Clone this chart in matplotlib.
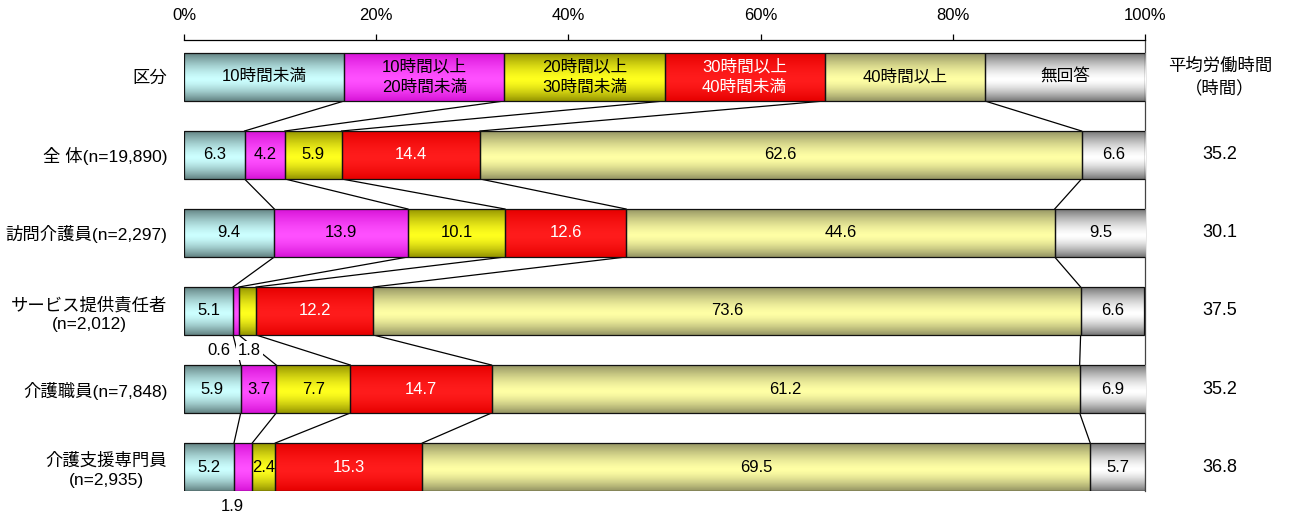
import matplotlib
matplotlib.use("Agg")
import matplotlib.pyplot as plt
import numpy as np

plt.rcParams['font.family'] = ['Liberation Sans', 'Noto Sans CJK JP', 'DejaVu Sans']
plt.rcParams['font.size'] = 12

# data
categories = ['10時間未満', '10時間以上\n20時間未満', '20時間以上\n30時間未満',
              '30時間以上\n40時間未満', '40時間以上', '無回答']
groups = ['全 体(n=19,890)', '訪問介護員(n=2,297)', 'サービス提供責任者\n(n=2,012)',
          '介護職員(n=7,848)', '介護支援専門員\n(n=2,935)']
shares = [
    [6.3, 4.2, 5.9, 14.4, 62.6, 6.6],
    [9.4, 13.9, 10.1, 12.6, 44.6, 9.5],
    [5.1, 0.6, 1.8, 12.2, 73.6, 6.6],
    [5.9, 3.7, 7.7, 14.7, 61.2, 6.9],
    [5.2, 1.9, 2.4, 15.3, 69.5, 5.7],
]
avg_hours = [35.2, 30.1, 37.5, 35.2, 36.8]

# gradient colours (light, dark) per category
light = [(204, 255, 255), (255, 80, 255), (255, 255, 30), (255, 28, 28), (255, 255, 165), (255, 255, 255)]
dark = [(100, 132, 132), (215, 20, 215), (150, 150, 0), (230, 0, 0), (150, 150, 100), (120, 120, 120)]
text_col = ['black', 'black', 'black', 'white', 'black', 'black']

# small values put under the bar: (row, segment) -> x shift
below = {(2, 1): -1.8, (2, 2): 0.2, (4, 1): -1.1}

h = 0.615
fig = plt.figure(figsize=(12.9, 5.19), dpi=100)
ax = fig.add_axes([184 / 1290, 28 / 519, 961 / 1290, 451 / 519])


def grad_img(ci, n=60):
    t = np.linspace(0, 1, n)
    p = 0.55
    d = np.where(t < p, (p - t) / p, (t - p) / (1 - p))
    w = 1 - np.clip(d, 0, 1) ** 1.5
    lo = np.array(light[ci]) / 255
    dk = np.array(dark[ci]) / 255
    col = dk[None, :] * (1 - w[:, None]) + lo[None, :] * w[:, None]
    return col[:, None, :]


def draw_row(y, vals):
    lefts = np.concatenate([[0], np.cumsum(vals)[:-1]])
    bars = ax.barh([y] * len(vals), vals, left=lefts, height=h,
                   color='none', edgecolor='#111111', linewidth=0.9, zorder=4)
    for ci, b in enumerate(bars):
        x0, y0 = b.get_x(), b.get_y()
        ax.imshow(grad_img(ci), extent=(x0, x0 + b.get_width(), y0, y0 + b.get_height()),
                  aspect='auto', origin='upper', zorder=3, interpolation='bilinear')
    return lefts


# header row
ys = [0] + [-(i + 1) for i in range(len(groups))]
header_vals = [100 / len(categories)] * len(categories)
hl = draw_row(0, header_vals)
for ci, cat in enumerate(categories):
    ax.text(hl[ci] + header_vals[ci] / 2, 0, cat, ha='center', va='center',
            color=text_col[ci], zorder=6, linespacing=1.5)

# data rows
cums = [np.cumsum(header_vals)]
for ri, vals in enumerate(shares):
    y = ys[ri + 1]
    lefts = draw_row(y, vals)
    cums.append(np.cumsum(vals))
    for ci, v in enumerate(vals):
        cx = lefts[ci] + v / 2
        if (ri, ci) in below:
            ax.text(cx + below[(ri, ci)], y - 0.51, f'{v:.1f}', ha='center', va='center',
                    color='black', zorder=6,
                    bbox=dict(facecolor='white', edgecolor='none', pad=1.5))
        else:
            ax.text(cx, y, f'{v:.1f}', ha='center', va='center', color=text_col[ci], zorder=6)
    ax.text(107.8, y, f'{avg_hours[ri]:.1f}', ha='center', va='center', clip_on=False,
            fontsize=13)

# connector lines between rows
for i in range(len(cums) - 1):
    for k in range(len(categories) - 1):
        ax.plot([cums[i][k], cums[i + 1][k]], [ys[i] - h / 2, ys[i + 1] + h / 2],
                color='black', linewidth=0.9, zorder=2)

ax.text(107.8, 0, '平均労働時間\n（時間）', ha='center', va='center', clip_on=False,
        fontsize=12.5, linespacing=1.4)

ax.set_xlim(0, 100)
ax.set_ylim(-5 - h / 2, 0.474)
ax.xaxis.tick_top()
ax.set_xticks(range(0, 101, 20))
ax.set_xticklabels([f'{v}%' for v in range(0, 101, 20)])
ax.tick_params(axis='x', length=4, width=0.9, pad=8, labelsize=12)
ax.set_yticks(ys)
ax.set_yticklabels(['区分'] + groups)
for lbl in ax.get_yticklabels():
    lbl.set_multialignment('center')
    lbl.set_linespacing(1.3)
ax.tick_params(axis='y', length=0, pad=12, labelsize=12.5)
for s in ['left', 'bottom']:
    ax.spines[s].set_visible(False)
ax.spines['top'].set_linewidth(0.9)
ax.spines['right'].set_linewidth(0.9)
ax.spines['right'].set_color('#444444')

fig.savefig('out.png', dpi=100)
